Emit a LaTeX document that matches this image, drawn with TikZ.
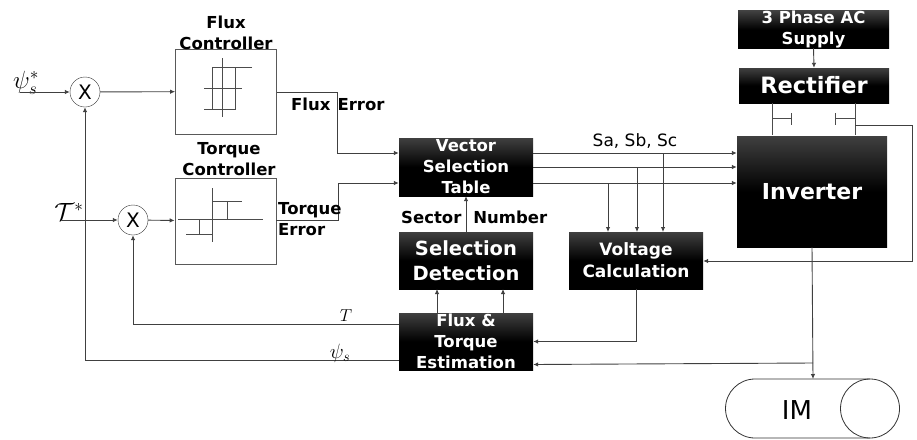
\documentclass[tikz,border=0pt]{standalone}
\usepackage{fontspec}
\setmainfont{DejaVu Sans}
\usetikzlibrary{arrows.meta}
\tikzset{
	blackbox/.style={shade,top color=black!75,bottom color=black,middle color=black,inner sep=0pt,text=white,align=center,font=\bfseries\fontsize{16.5}{21}\selectfont},
	ctrlbox/.style={draw=black!65,line width=.8pt,inner sep=0pt},
	sumnode/.style={draw=black!80,circle,minimum size=30pt,inner sep=0pt,font=\fontsize{20}{20}\selectfont},
	wire/.style={draw=black!75,line width=.9pt,-{Latex[length=5pt,width=4.5pt]}},
	plainwire/.style={draw=black!70,line width=.9pt},
	curve/.style={draw=black!70,line width=1pt},
	caption/.style={font=\bfseries\fontsize{16.5}{21}\selectfont,align=center,inner sep=0pt}
}
\begin{document}
\begin{tikzpicture}[x=1pt,y=-1pt]
	\useasboundingbox (0,0) rectangle (917,439);
	% controllers
	\node[ctrlbox,minimum width=101,minimum height=85] (fluxctrl) at (226,91.5) {};
	\node[ctrlbox,minimum width=101,minimum height=86] (torquectrl) at (225.5,221) {};
	\node[caption] (fluxcap) at (226,32.5) {Flux\\Controller};
	\node[caption] (torquecap) at (229,159.5) {Torque\\Controller};
	% black blocks
	\node[blackbox,minimum width=134,minimum height=58] (vst) at (466,167) {Vector\\Selection\\Table};
	\node[blackbox,font=\bfseries\fontsize{19.5}{25}\selectfont,minimum width=134,minimum height=57] (seldet) at (466,260.5) {Selection\\Detection};
	\node[blackbox,minimum width=134,minimum height=57] (est) at (466,341.5) {Flux \&\\Torque\\Estimation};
	\node[blackbox,font=\bfseries\fontsize{17}{22}\selectfont,minimum width=134,minimum height=57] (volt) at (636,260.5) {Voltage\\Calculation};
	\node[blackbox,font=\bfseries\fontsize{22}{22}\selectfont,minimum width=150,minimum height=111] (inv) at (812,191.5) {Inverter};
	\node[blackbox,font=\bfseries\fontsize{22.5}{22}\selectfont,minimum width=150,minimum height=35] (rect) at (814,85.5) {Rectifier};
	\node[blackbox,font=\bfseries\fontsize{16.5}{21}\selectfont,minimum width=151,minimum height=35] (supply) at (813.5,29.5) {3 Phase AC\\Supply};
	% summing points
	\node[sumnode] (sumflux) at (85,92) {X};
	\node[sumnode] (sumtorque) at (133,220) {X};
	\coordinate (psiin) at (20,92);
	\coordinate (tin) at (62,220);
	\node[inner sep=0pt,font=\fontsize{23}{23}\selectfont] (psilab) at (26,83) {$\psi_s^*$};
	\node[inner sep=0pt,font=\fontsize{25}{25}\selectfont] (tlab) at (69,212) {$\mathcal{T}^*$};
	\draw[wire] (psiin) -- (sumflux);
	\draw[wire] (tin) -- (sumtorque);
	\draw[wire] (sumflux) -- (fluxctrl);
	\draw[wire] (sumtorque) -- (torquectrl);
	% errors
	\draw[wire] (fluxctrl.east|-sumflux) -- (337,92) |- ([yshift=14pt]vst.west);
	\draw[wire] (torquectrl.east|-sumtorque) -- (338,220) |- ([yshift=-16pt]vst.west);
	\node[caption,anchor=west] (fluxerr) at (291,104) {Flux\hspace{7pt}Error};
	\node[caption,anchor=west,align=left] (torqueerr) at (278,219) {Torque\\Error};
	% inverter signals
	\foreach \s/\xd in {14/663,0/637,-16/608}{
		\draw[wire] ([yshift=\s pt]vst.east) -- ([yshift=\s pt]inv.west|-vst.east);
		\draw[wire] (\xd,{167-\s}) -- (\xd,232);
	}
	\node[inner sep=0pt,font=\fontsize{17}{17}\selectfont] (salab) at (635,141) {Sa, Sb, Sc};
	\draw[wire] (seldet.north) -- (vst.south);
	\node[caption,anchor=west] (sector) at (401,217) {Sector\hspace{12pt}Number};
	\foreach \x in {437,503}{
		\draw[wire] (\x,313) -- (\x,289);
	}
	\draw[wire] (volt.south) |- (est.east);
	% feedback
	\draw[wire] (inv.south) -- (813,379);
	\draw[wire] (813,363) -- ([yshift=-23pt]est.east);
	\draw[wire] (est.west|-0,324) -| (sumtorque.south);
	\draw[wire] (est.west|-0,360) -| (sumflux.south);
	\node[inner sep=0pt,font=\fontsize{19}{19}\selectfont] (tfb) at (346,316) {$T$};
	\node[inner sep=0pt,font=\fontsize{20}{20}\selectfont] (psifb) at (340,353) {$\psi_s$};
	% dc link
	\draw[wire] (supply.south) -- (rect.north);
	\draw[plainwire] (772,103) -- (772,135);
	\draw[plainwire] (855,103) -- (855,135);
	\draw[plainwire] (772,118) -- (791,118);
	\draw[plainwire] (791,113) -- (791,125);
	\draw[plainwire] (855,118) -- (835,118);
	\draw[plainwire] (835,113) -- (835,125);
	\draw[wire] (855,125) -- (912,125) |- (volt.east|-0,261);
	% motor
	\draw[draw=black!80,line width=.8pt] (870,379) -- (755,379) (870,438) -- (755,438) arc (90:270:29.5);
	\node[draw=black!80,line width=.8pt,circle,minimum size=59pt,inner sep=0pt] (imend) at (870,408.5) {};
	\node[inner sep=0pt,font=\fontsize{26}{26}\selectfont] (im) at (797,410) {IM};
	% hysteresis
	\begin{scope}[curve]
		\draw (222,58) -- (222,117);
		\draw (204,88) -- (242,88);
		\draw (252,67) -- (212,67) -- (212,109);
		\draw (204,109) -- (235,109) -- (235,67);
		\draw (212,188) -- (212,242);
		\draw (178,219) -- (263,219);
		\draw (212,201) -- (242,201);
		\draw (227,201) -- (227,219);
		\draw (186,234) -- (212,234);
		\draw (199,219) -- (199,234);
	\end{scope}
\end{tikzpicture}
\end{document}
